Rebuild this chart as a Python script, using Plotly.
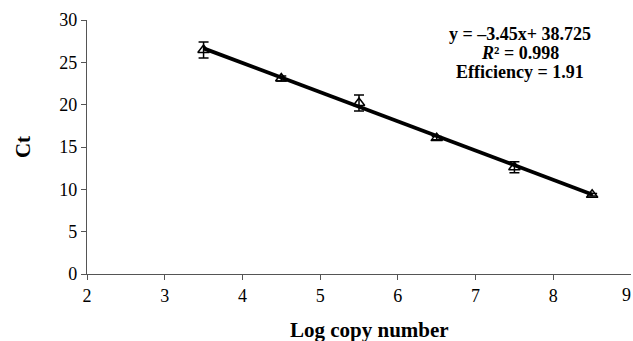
import plotly.graph_objects as go

log_copy = [3.5, 4.5, 5.5, 6.5, 7.5, 8.5]
ct_mean = [26.45, 23.1, 20.2, 16.05, 12.6, 9.35]
ct_err = [0.95, 0.3, 0.95, 0.2, 0.65, 0.15]
slope = -3.45
intercept = 38.725
fit_x = [3.5, 8.5]
fit_y = [slope * x + intercept for x in fit_x]
eq_lines = ["<b>y = \u20133.45x+ 38.725</b>", "<b><i>R</i>\u00b2 = 0.998</b>", "<b>Efficiency = 1.91</b>"]
x_ticks = [2, 3, 4, 5, 6, 7, 8, 9]

font_family = "Liberation Serif"
L, R, T, B = 87, 2, 20, 67
W, H = 633, 341
pw, ph = W - L - R, H - T - B

fig = go.Figure()
fig.add_trace(go.Scatter(
    x=fit_x, y=fit_y, mode="lines",
    line=dict(color="black", width=3.8), showlegend=False, hoverinfo="skip"))
fig.add_trace(go.Scatter(
    x=log_copy, y=ct_mean, mode="markers",
    marker=dict(symbol="triangle-up-open", size=10, color="black", line=dict(width=1.5, color="black")),
    error_y=dict(type="data", array=ct_err, visible=True, color="black", thickness=1.5, width=5),
    showlegend=False))

for i, line in enumerate(eq_lines):
    py = 34 + 19 * i
    fig.add_annotation(
        x=(520 - L) / pw, y=(H - B - py) / ph, xref="paper", yref="paper", showarrow=False,
        text=line, font=dict(family=font_family, size=18, color="black"),
        xanchor="center", yanchor="middle")

# last tick label (9) sits at the page edge; keep it inside the page
fig.add_annotation(x=x_ticks[-1], y=0, xref="x", yref="paper", yshift=-9, showarrow=False,
                   text=str(x_ticks[-1]), font=dict(family=font_family, size=18, color="black"),
                   xanchor="right", yanchor="top", xshift=2)

# x-axis title
fig.add_annotation(x=(369 - L) / pw, y=(H - B - 330) / ph, xref="paper", yref="paper",
                   showarrow=False, text="<b>Log copy number</b>",
                   font=dict(family=font_family, size=21, color="black"),
                   xanchor="center", yanchor="middle")

fig.update_layout(
    width=W, height=H,
    margin=dict(l=L, r=R, t=T, b=B),
    paper_bgcolor="white", plot_bgcolor="white",
    font=dict(family=font_family, size=18, color="black"),
    xaxis=dict(range=[2, 9], tickvals=x_ticks[:-1], showgrid=False, zeroline=False,
               showline=True, linecolor="#555", linewidth=1.2,
               ticks="outside", ticklen=5, tickcolor="#555"),
    yaxis=dict(range=[0, 30], dtick=5, showgrid=False, zeroline=False,
               showline=True, linecolor="#555", linewidth=1.2,
               ticks="outside", ticklen=5, tickcolor="#555",
               title=dict(text="<b>Ct</b>", font=dict(size=21), standoff=22)),
)

fig.write_html("out.html")
